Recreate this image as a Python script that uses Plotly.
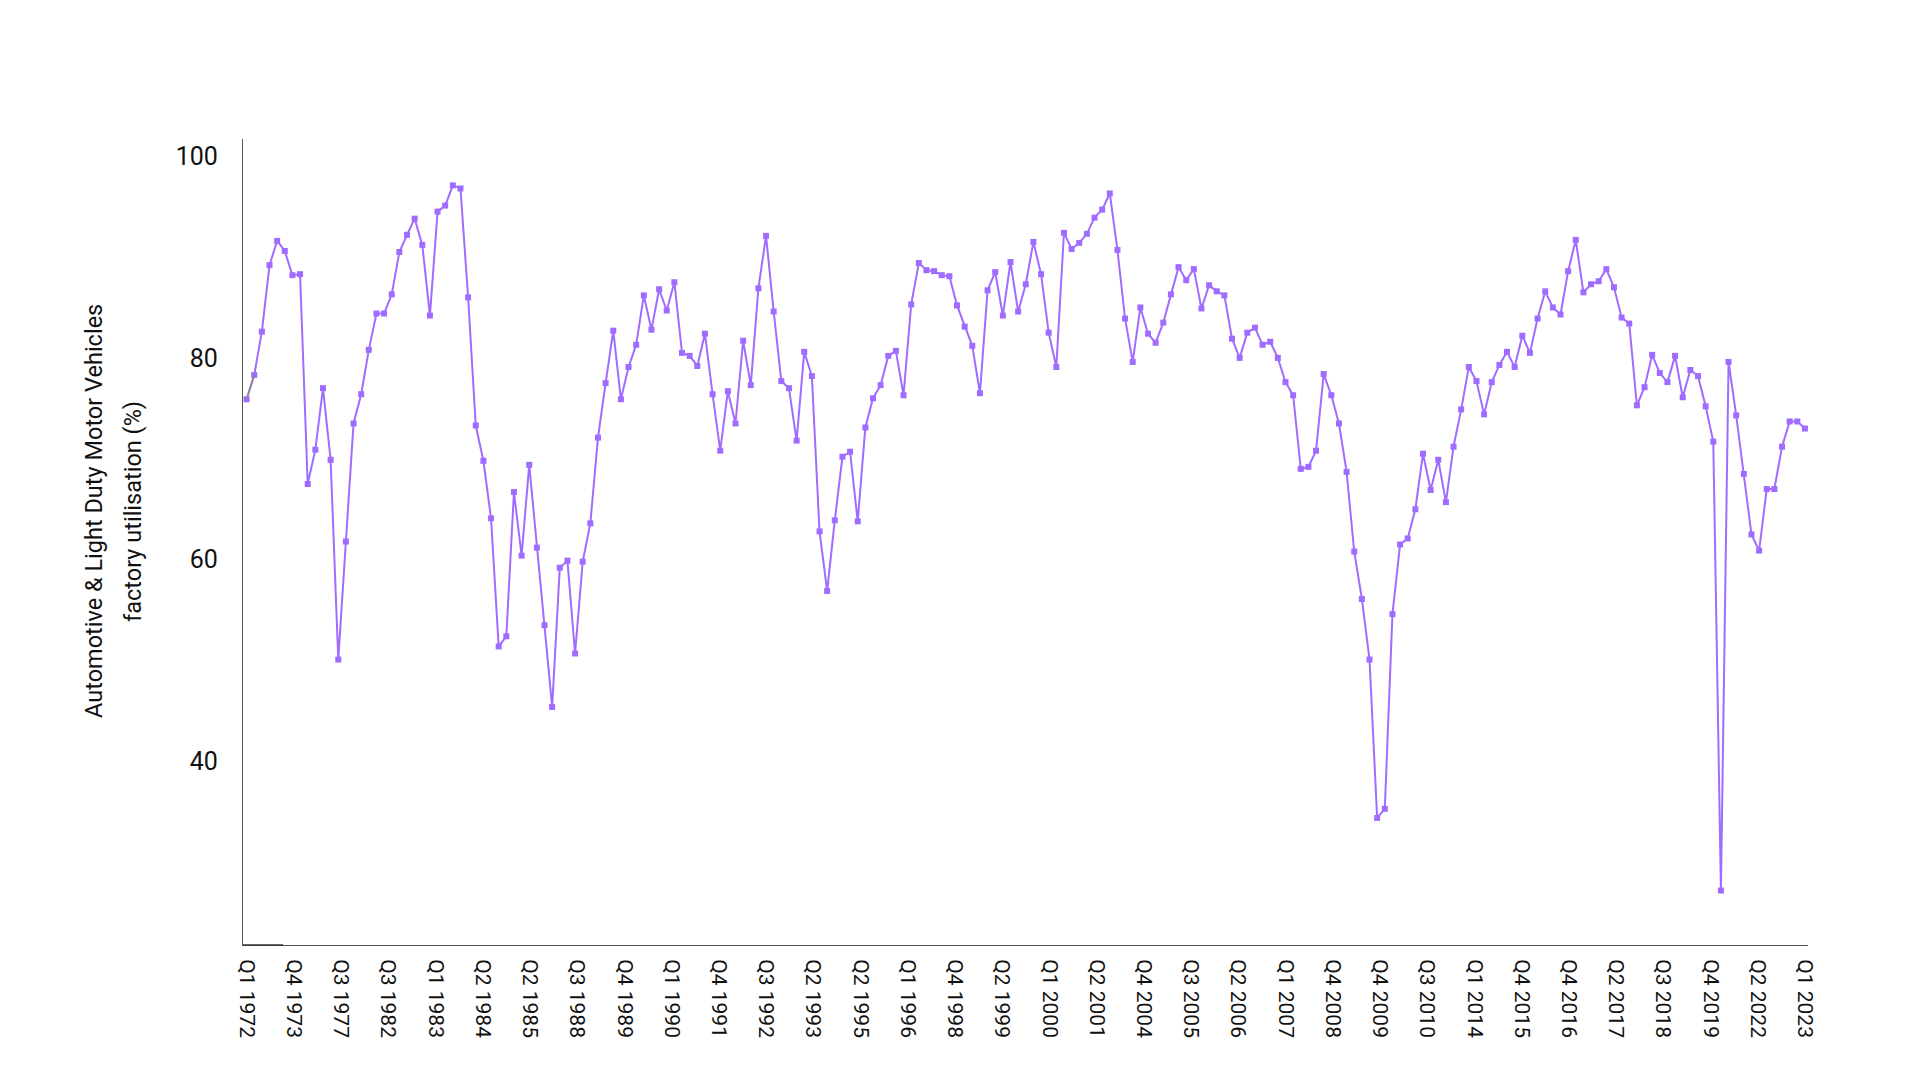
import numpy as np
import plotly.graph_objects as go

# quarterly factory utilisation (%), Q1 1972 .. Q1 2023
utilisation = [
    75.9, 78.3, 82.6, 89.2, 91.6, 90.6, 88.2, 88.3, 67.5, 70.9,
    77.0, 69.9, 50.1, 61.8, 73.5, 76.4, 80.8, 84.4, 84.4, 86.3,
    90.5, 92.2, 93.8, 91.2, 84.2, 94.5, 95.1, 97.1, 96.8, 86.0,
    73.3, 69.8, 64.1, 51.4, 52.4, 66.7, 60.4, 69.4, 61.2, 53.5,
    45.4, 59.2, 59.9, 50.7, 59.8, 63.6, 72.1, 77.5, 82.7, 75.9,
    79.1, 81.3, 86.2, 82.8, 86.8, 84.7, 87.5, 80.5, 80.2, 79.2,
    82.4, 76.4, 70.8, 76.7, 73.5, 81.7, 77.3, 86.9, 92.1, 84.6,
    77.7, 77.0, 71.8, 80.6, 78.2, 62.8, 56.9, 63.9, 70.2, 70.7,
    63.8, 73.1, 76.0, 77.3, 80.2, 80.7, 76.3, 85.3, 89.4, 88.7,
    88.6, 88.2, 88.1, 85.2, 83.1, 81.2, 76.5, 86.7, 88.5, 84.2,
    89.5, 84.6, 87.3, 91.5, 88.3, 82.5, 79.1, 92.4, 90.8, 91.4,
    92.3, 93.9, 94.7, 96.3, 90.7, 83.9, 79.6, 85.0, 82.4, 81.5,
    83.5, 86.3, 89.0, 87.7, 88.8, 84.9, 87.2, 86.6, 86.2, 81.9,
    80.0, 82.5, 83.0, 81.3, 81.6, 80.0, 77.6, 76.3, 69.0, 69.2,
    70.8, 78.4, 76.3, 73.5, 68.7, 60.8, 56.1, 50.1, 34.4, 35.3,
    54.6, 61.5, 62.1, 65.0, 70.5, 66.9, 69.9, 65.7, 71.2, 74.9,
    79.1, 77.7, 74.4, 77.6, 79.3, 80.6, 79.1, 82.2, 80.5, 83.9,
    86.6, 85.0, 84.3, 88.6, 91.7, 86.5, 87.3, 87.6, 88.8, 87.0,
    84.0, 83.4, 75.3, 77.1, 80.3, 78.5, 77.6, 80.2, 76.1, 78.8,
    78.2, 75.2, 71.7, 27.2, 79.6, 74.3, 68.5, 62.5, 60.9, 67.0,
    67.0, 71.2, 73.7, 73.7, 73.0,
]

tick_labels = [
    "Q1 1972", "Q4 1973", "Q3 1977", "Q3 1982", "Q1 1983", "Q2 1984",
    "Q2 1985", "Q3 1988", "Q4 1989", "Q1 1990", "Q4 1991", "Q3 1992",
    "Q2 1993", "Q2 1995", "Q1 1996", "Q4 1998", "Q2 1999", "Q1 2000",
    "Q2 2001", "Q4 2004", "Q3 2005", "Q2 2006", "Q1 2007", "Q4 2008",
    "Q4 2009", "Q3 2010", "Q1 2014", "Q4 2015", "Q4 2016", "Q2 2017",
    "Q3 2018", "Q4 2019", "Q2 2022", "Q1 2023",
]
y_ticks = [40, 60, 80, 100]
y_title_lines = ["Automotive & Light Duty Motor Vehicles", "factory utilisation (%)"]

purple = "#A06CFF"
font_family = "Roboto, 'Liberation Sans', sans-serif"

x_idx = list(range(len(utilisation)))
tick_pos = np.linspace(0, len(utilisation) - 1, len(tick_labels))

fig = go.Figure()
fig.add_trace(go.Scatter(
    x=x_idx, y=utilisation, mode="lines+markers",
    line=dict(color=purple, width=2),
    marker=dict(symbol="square", size=6, color=purple),
    showlegend=False,
))
# first segment in the source is drawn grey
fig.add_trace(go.Scatter(
    x=x_idx[:2], y=utilisation[:2], mode="lines",
    line=dict(color="#8a8a8a", width=1.5),
    showlegend=False,
))

# page has an 8px body margin, so margins are shifted to line up
fig.update_layout(
    width=1920, height=1080,
    margin=dict(l=235, r=120, t=131, b=143),
    paper_bgcolor="white", plot_bgcolor="white",
    font=dict(family=font_family, color="#111111"),
)
fig.update_xaxes(
    range=[-0.47, len(utilisation) - 0.6],
    showgrid=False, zeroline=False,
    showline=True, linecolor="#555555", linewidth=1.2,
    tickmode="array", tickvals=tick_pos, ticktext=tick_labels,
    tickangle=90, ticks="", ticklabelstandoff=9,
    tickfont=dict(size=21, color="#111111"),
)
fig.update_yaxes(
    range=[21.8, 101.7],
    showgrid=False, zeroline=False,
    showline=True, linecolor="#555555", linewidth=1.2,
    tickmode="array", tickvals=y_ticks, ticks="",
    ticklabelstandoff=19,
    tickfont=dict(size=25, color="#111111"),
)
# darker stub at the start of the x axis line
fig.add_shape(type="line", xref="paper", yref="paper",
              x0=0, x1=0.0256, y0=0, y1=0,
              line=dict(color="#333333", width=1.6))

for xp, line_text in zip([-0.0952, -0.0703], y_title_lines):
    fig.add_annotation(
        text=line_text, xref="paper", yref="paper",
        x=xp, y=0.5385, xanchor="center", yanchor="middle",
        textangle=-90, showarrow=False,
        font=dict(size=23.5, color="#111111"),
    )

fig.write_html("out.html")
